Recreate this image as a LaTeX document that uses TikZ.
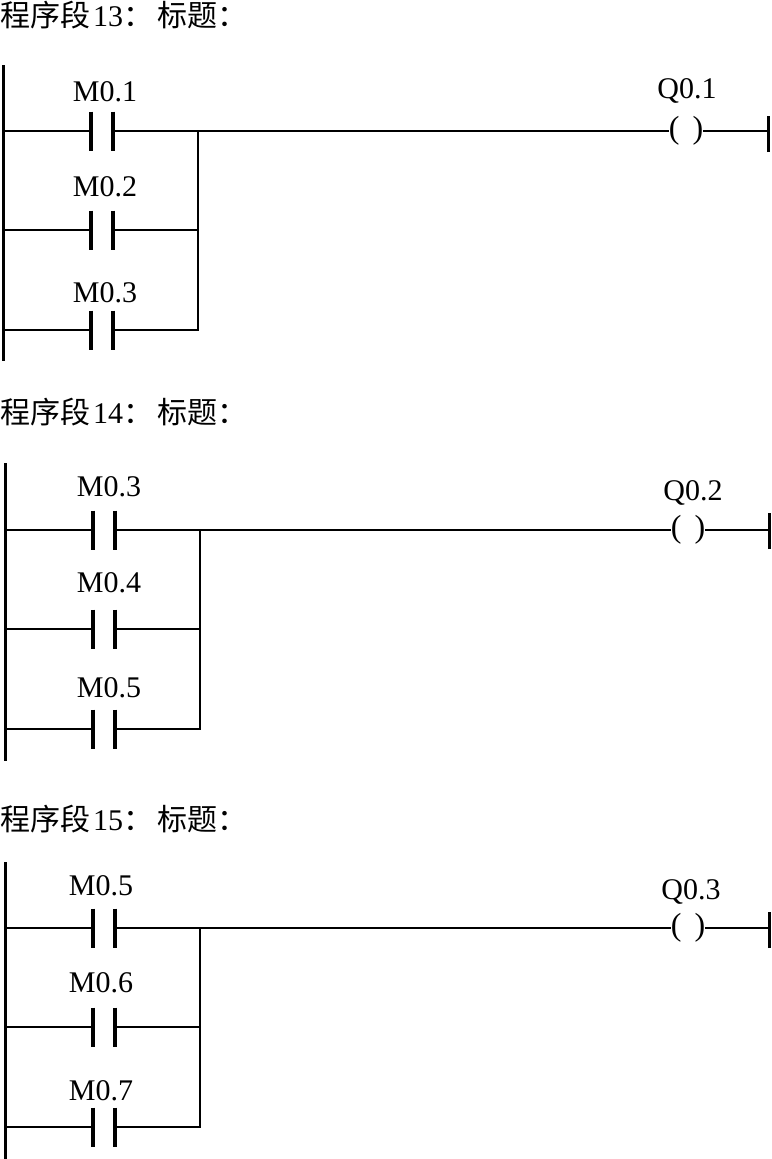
\documentclass[tikz,border=0pt]{standalone}
\usepackage{fontspec}
\setmainfont{Liberation Serif}
\newfontfamily\cjk{Noto Sans CJK SC}
\tikzset{
	wire/.style={line width=2pt},
	rail/.style={line width=3pt},
	contact/.style={inner sep=0pt,outer sep=0pt,minimum width=22pt,minimum height=39pt},
	plateA/.style={line width=4pt},
	plateB/.style={line width=3.2pt},
	tag/.style={inner sep=0pt,font=\fontsize{30}{32}\selectfont},
	coil/.style={inner sep=0pt,outer sep=0pt,font=\fontsize{32}{34}\selectfont},
	heading/.style={inner sep=0pt,anchor=west,font=\fontsize{30}{32}\selectfont}
}
\newcommand{\hz}[1]{{\cjk\fontsize{30}{32}\selectfont #1}}
\begin{document}
\begin{tikzpicture}[line cap=butt,line join=miter,x=1pt,y=-1pt]
	\useasboundingbox (0,0) rectangle (771,1159);
	\fill[white] (0,0) rectangle (771,1159);
	\node[heading] (t1) at (0,15) {\hz{程序段}\kern3pt 13\hz{：}\kern4pt\hz{标题：}};
	\node[heading] (t2) at (0,412) {\hz{程序段}\kern3pt 14\hz{：}\kern4pt\hz{标题：}};
	\node[heading] (t3) at (0,819) {\hz{程序段}\kern3pt 15\hz{：}\kern4pt\hz{标题：}};
	\coordinate (ra1) at (3.5,65);
	\coordinate (rb1) at (3.5,361);
	\coordinate (ra2) at (5.5,463);
	\coordinate (rb2) at (5.5,761);
	\coordinate (ra3) at (5.5,862);
	\coordinate (rb3) at (5.5,1159);
	\draw[rail] (ra1)-- (rb1);
	\draw[rail] (ra2)-- (rb2);
	\draw[rail] (ra3)-- (rb3);
	\node[contact] (c11) at (102,131) {};
	\node[contact] (c12) at (102,230) {};
	\node[contact] (c13) at (102,330) {};
	\node[contact] (c21) at (104,530) {};
	\node[contact] (c22) at (104,629) {};
	\node[contact] (c23) at (104,729) {};
	\node[contact] (c31) at (104,928) {};
	\node[contact] (c32) at (104,1027) {};
	\node[contact] (c33) at (104,1127) {};
	\foreach \n in {c11,c12,c13,c21,c22,c23,c31,c32,c33} {
		\draw[plateA] (\n.north west)-- (\n.south west);
		\draw[plateB] (\n.north east)-- (\n.south east);
	}
	\node[tag] (m11) at (105,92) {M0.1};
	\node[tag] (m12) at (105,187) {M0.2};
	\node[tag] (m13) at (105,293) {M0.3};
	\node[tag] (m21) at (109,487) {M0.3};
	\node[tag] (m22) at (109,583) {M0.4};
	\node[tag] (m23) at (109,688) {M0.5};
	\node[tag] (m31) at (101,886) {M0.5};
	\node[tag] (m32) at (101,983) {M0.6};
	\node[tag] (m33) at (101,1091) {M0.7};
	\node[tag] (q1) at (687,91) {Q0.1};
	\node[tag] (q2) at (693,493) {Q0.2};
	\node[tag] (q3) at (691,892) {Q0.3};
	\node[coil] (k1) at (686,131) {(\hspace{13pt})};
	\node[coil] (k2) at (688,530) {(\hspace{13pt})};
	\node[coil] (k3) at (688,928) {(\hspace{13pt})};
	\coordinate (e1) at (768,134);
	\coordinate (e2) at (769,531);
	\coordinate (e3) at (769,930);
	\draw[rail] ([yshift=-18pt]e1)-- ([yshift=18pt]e1);
	\draw[rail] ([yshift=-18pt]e2)-- ([yshift=18pt]e2);
	\draw[rail] ([yshift=-18pt]e3)-- ([yshift=18pt]e3);
	\coordinate (j1) at (198,131);
	\coordinate (j2) at (200,530);
	\coordinate (j3) at (200,928);
	\draw[wire] (ra1 |- c11)-- (c11.west);
	\draw[wire] (ra1 |- c12)-- (c12.west);
	\draw[wire] (ra1 |- c13)-- (c13.west);
	\draw[wire] (ra2 |- c21)-- (c21.west);
	\draw[wire] (ra2 |- c22)-- (c22.west);
	\draw[wire] (ra2 |- c23)-- (c23.west);
	\draw[wire] (ra3 |- c31)-- (c31.west);
	\draw[wire] (ra3 |- c32)-- (c32.west);
	\draw[wire] (ra3 |- c33)-- (c33.west);
	\draw[wire] (c11.east)-- (k1.west);
	\draw[wire] (c21.east)-- (k2.west);
	\draw[wire] (c31.east)-- (k3.west);
	\draw[wire] (k1.east)-- (e1 |- k1);
	\draw[wire] (k2.east)-- (e2 |- k2);
	\draw[wire] (k3.east)-- (e3 |- k3);
	\draw[wire] (c12.east)-- (j1 |- c12);
	\draw[wire] (c22.east)-- (j2 |- c22);
	\draw[wire] (c32.east)-- (j3 |- c32);
	\draw[wire] (c13.east)-| (j1);
	\draw[wire] (c23.east)-| (j2);
	\draw[wire] (c33.east)-| (j3);
\end{tikzpicture}
\end{document}
